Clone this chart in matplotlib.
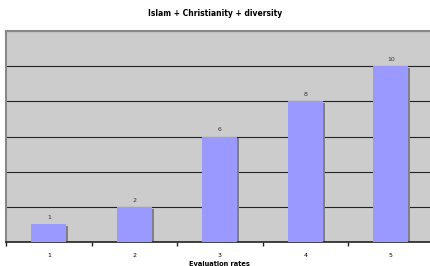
import matplotlib
matplotlib.use("Agg")
from matplotlib import pyplot as plt

rates = ["1", "2", "3", "4", "5"]
counts = [1, 2, 6, 8, 10]

fig = plt.figure(figsize=(4.31, 2.66), dpi=100)
ax = fig.add_axes([0.014, 0.090, 0.992, 0.793])
ax.set_facecolor("#cccccc")

x = list(range(len(rates)))
# right-hand shadow like the old spreadsheet charts
ax.bar([i + 0.025 for i in x], [c - 0.1 for c in counts], width=0.41,
       color="#808080", zorder=2)
ax.bar(x, counts, width=0.41, color="#9999ff", zorder=3)

for i, c in zip(x, counts):
    ax.text(i, c + 0.25, str(c), ha="center", va="bottom", fontsize=4.5, color="#333333")

ax.set_xlim(-0.5, 4.5)
ax.set_ylim(0, 12)
ax.set_yticks(range(0, 13, 2))
ax.yaxis.grid(True, color="#222222", linewidth=0.8, zorder=1)
ax.set_axisbelow(True)
ax.tick_params(axis="y", left=False, labelleft=False)

ax.set_xticks(x)
ax.set_xticklabels(rates, fontsize=4.5)
ax.tick_params(axis="x", length=0, pad=8)
ax.set_xticks([i - 0.5 for i in x], minor=True)
ax.tick_params(axis="x", which="minor", length=3, width=1, color="#222222")

for side in ["top", "left", "right"]:
    ax.spines[side].set_color("#888888")
    ax.spines[side].set_linewidth(1.5)
ax.spines["bottom"].set_color("#222222")
ax.spines["bottom"].set_linewidth(1.2)

ax.set_xlabel("Evaluation rates", fontsize=4.8, fontweight="bold", labelpad=2)
fig.suptitle("Islam + Christianity + diversity", fontsize=5.5, fontweight="bold", y=0.965)

plt.savefig("out.png", dpi=100)
